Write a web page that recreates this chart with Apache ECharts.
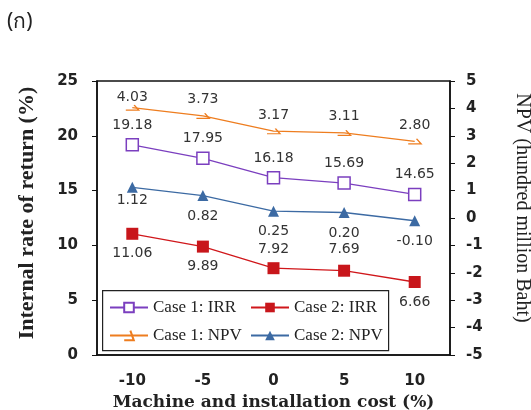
<!DOCTYPE html>
<html>
<head>
<meta charset="utf-8">
<script src="https://cdn.jsdelivr.net/npm/echarts@6/dist/echarts.min.js"></script>
<style>
  html, body { margin: 0; padding: 0; background: #fff; }
  #chart { width: 531px; height: 410px; }
</style>
</head>
<body>
<div id="chart"></div>
<script>
// Sensitivity of IRR and NPV to machine and installation cost
const costChange = ['-10', '-5', '0', '5', '10'];
const case1IRR = [19.18, 17.95, 16.18, 15.69, 14.65];
const case2IRR = [11.06, 9.89, 7.92, 7.69, 6.66];
const case1NPV = [4.03, 3.73, 3.17, 3.11, 2.80];
const case2NPV = [1.12, 0.82, 0.25, 0.20, -0.10];

const labelFont = {
  fontFamily: 'DejaVu Sans', fontSize: 14, color: '#333',
  formatter: p => Number(p.value).toFixed(2)
};
const serif = 'Liberation Serif';
const tickFont = { fontFamily: 'DejaVu Sans', fontWeight: 'bold', fontSize: 15, color: '#222' };

// data items; some labels sit on the other side of the mark to avoid overlap
function items(values, flip) {
  return values.map((v, i) => {
    const item = { value: v };
    if (flip && flip[i]) item.label = flip[i];
    return item;
  });
}

const chart = echarts.init(document.getElementById('chart'));
chart.setOption({
  animation: false,
  backgroundColor: '#fff',
  grid: {
    left: 97, right: 81, top: 81, bottom: 55,
    outerBoundsMode: 'none',
    containLabel: false,
    show: true, borderColor: '#111', borderWidth: 1.5, backgroundColor: 'transparent'
  },
  graphic: [
    {
      type: 'text', left: 7, top: 12,
      style: { text: '(ก)', fontSize: 21, fontFamily: 'Noto Sans, DejaVu Sans, sans-serif', fill: '#222' }
    },
    {
      type: 'rect', left: 102, top: 290, z: 5,
      shape: { width: 286, height: 60 },
      style: { fill: '#fff', stroke: '#222', lineWidth: 1.2 }
    }
  ],
  legend: [
    {
      left: 104, top: 294, orient: 'vertical', itemGap: 11, z: 10,
      itemWidth: 38, itemHeight: 12,
      textStyle: { fontFamily: serif, fontSize: 17, color: '#222' },
      data: ['Case 1: IRR', 'Case 1: NPV']
    },
    {
      left: 245, top: 294, orient: 'vertical', itemGap: 11, z: 10,
      itemWidth: 38, itemHeight: 12,
      textStyle: { fontFamily: serif, fontSize: 17, color: '#222' },
      data: ['Case 2: IRR', 'Case 2: NPV']
    }
  ],
  xAxis: {
    type: 'category',
    data: costChange,
    boundaryGap: true,
    axisLine: { lineStyle: { color: '#111', width: 1.5 } },
    axisTick: { alignWithLabel: true, length: 5, lineStyle: { color: '#111' } },
    axisLabel: { margin: 19, ...tickFont },
    name: 'Machine and installation cost (%)',
    nameLocation: 'middle',
    nameGap: 35,
    nameTextStyle: { fontFamily: 'DejaVu Serif', fontWeight: 'bold', fontSize: 17, color: '#222' }
  },
  yAxis: [
    {
      type: 'value', min: 0, max: 25, interval: 5,
      splitLine: { show: false },
      axisLine: { show: true, lineStyle: { color: '#111', width: 1.5 } },
      axisTick: { show: true, length: 5, lineStyle: { color: '#111' } },
      axisLabel: { margin: 19, ...tickFont },
      name: 'Internal rate of return (%)',
      nameLocation: 'middle',
      nameGap: 59,
      nameTextStyle: { fontFamily: serif, fontWeight: 'bold', fontSize: 22, color: '#222', padding: [0, 0, 0, 10] }
    },
    {
      type: 'value', min: -5, max: 5, interval: 1,
      position: 'right',
      splitLine: { show: false },
      axisLine: { show: true, lineStyle: { color: '#111', width: 1.5 } },
      axisTick: { show: true, length: 5, lineStyle: { color: '#111' } },
      axisLabel: { margin: 16, ...tickFont },
      name: 'NPV (hundred million Baht)',
      nameLocation: 'middle',
      nameGap: 62,
      nameRotate: -90,
      nameTextStyle: { fontFamily: serif, fontSize: 20, color: '#222', padding: [0, 20, 0, 0] }
    }
  ],
  series: [
    {
      name: 'Case 1: IRR', type: 'line', yAxisIndex: 0,
      data: items(case1IRR),
      symbol: 'rect', symbolSize: 12,
      lineStyle: { color: '#7b3fbf', width: 1.3 },
      itemStyle: { color: '#fff', borderColor: '#7b3fbf', borderWidth: 1.5 },
      label: { show: true, position: 'top', distance: 6, ...labelFont }
    },
    {
      name: 'Case 2: IRR', type: 'line', yAxisIndex: 0,
      data: items(case2IRR, [null, null,
        { position: 'top', distance: 6 }, { position: 'top', distance: 8 }, null]),
      symbol: 'rect', symbolSize: 12,
      lineStyle: { color: '#d0171b', width: 1.3 },
      itemStyle: { color: '#c8161b' },
      label: { show: true, position: 'bottom', distance: 7, ...labelFont }
    },
    {
      name: 'Case 1: NPV', type: 'line', yAxisIndex: 1,
      data: items(case1NPV, [{ position: 'top', distance: 0 }]),
      symbol: 'path://M0,10 L14,10 L9,2',
      symbolSize: [13, 9],
      symbolKeepAspect: true,
      lineStyle: { color: '#ee7d1f', width: 1.3 },
      itemStyle: { color: 'rgba(0,0,0,0)', borderColor: '#ee7d1f', borderWidth: 1.3 },
      label: { show: true, position: 'top', distance: 6, ...labelFont }
    },
    {
      name: 'Case 2: NPV', type: 'line', yAxisIndex: 1,
      data: items(case2NPV, [{ position: 'bottom', distance: 1 }]),
      symbol: 'triangle', symbolSize: 11,
      lineStyle: { color: '#3c6aa3', width: 1.3 },
      itemStyle: { color: '#3c6aa3' },
      label: { show: true, position: 'bottom', distance: 8, ...labelFont }
    }
  ]
});
</script>
</body>
</html>
